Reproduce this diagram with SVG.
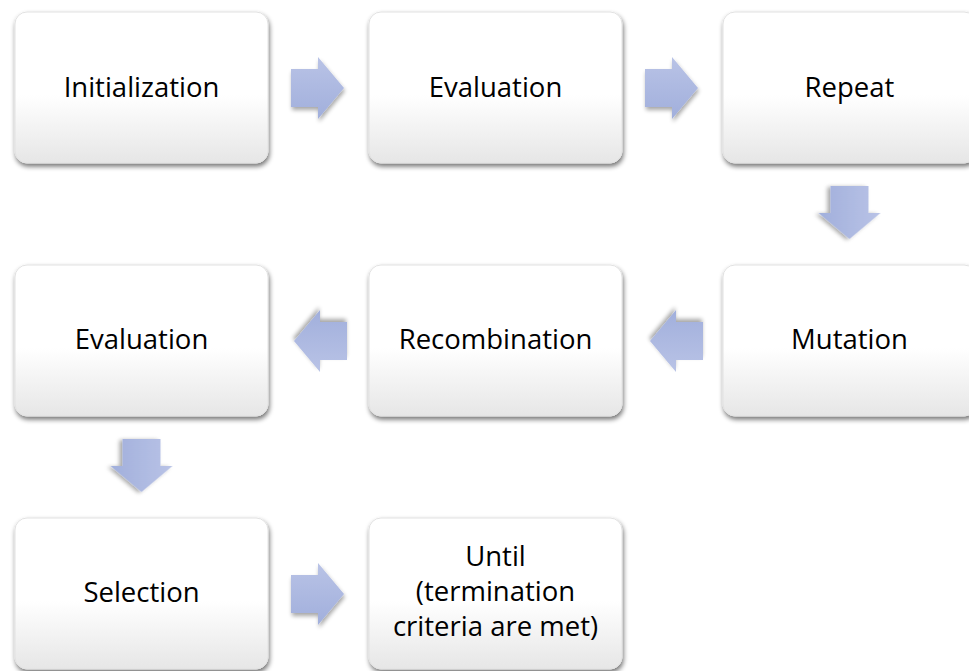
<svg xmlns="http://www.w3.org/2000/svg" width="969" height="671" viewBox="0 0 969 671">
<defs>
<linearGradient id="bg" x1="0" y1="0" x2="0" y2="1">
<stop offset="0" stop-color="#ffffff"/>
<stop offset="0.55" stop-color="#ffffff"/>
<stop offset="1" stop-color="#e6e6e6"/>
</linearGradient>
<linearGradient id="ag" x1="0" y1="0" x2="0" y2="1">
<stop offset="0" stop-color="#b9c3e6"/>
<stop offset="1" stop-color="#a1afdc"/>
</linearGradient>
<filter id="sh" x="-10%" y="-10%" width="125%" height="130%">
<feGaussianBlur in="SourceAlpha" stdDeviation="2.5"/>
<feOffset dx="1" dy="3" result="b"/>
<feComponentTransfer><feFuncA type="linear" slope="0.55"/></feComponentTransfer>
<feMerge><feMergeNode/><feMergeNode in="SourceGraphic"/></feMerge>
</filter>
<filter id="ash" x="-20%" y="-20%" width="150%" height="150%">
<feGaussianBlur in="SourceAlpha" stdDeviation="2"/>
<feOffset dx="1" dy="3"/>
<feComponentTransfer><feFuncA type="linear" slope="0.35"/></feComponentTransfer>
<feMerge><feMergeNode/><feMergeNode in="SourceGraphic"/></feMerge>
</filter>
<path id="ra" d="M0,-19 H27 V-31 L53,0 L27,31 V19 H0 Z"/>
</defs>
<style>
.box{fill:url(#bg);stroke:#e2e2e2;stroke-width:1;filter:url(#sh)}
.lbl{font-family:"Open Sans","Liberation Sans",sans-serif;font-size:27.5px;fill:#000;text-anchor:middle}
.arr{fill:url(#ag);filter:url(#ash)}
</style>
<rect width="969" height="671" fill="#ffffff"/>
<g id="connectors">
<use href="#ra" class="arr" transform="translate(291,88)"/>
<use href="#ra" class="arr" transform="translate(645,88)"/>
<use href="#ra" class="arr" transform="translate(849.5,186) rotate(90)"/>
<use href="#ra" class="arr" transform="translate(703,341) rotate(180)"/>
<use href="#ra" class="arr" transform="translate(347,341) rotate(180)"/>
<use href="#ra" class="arr" transform="translate(141.5,439) rotate(90)"/>
<use href="#ra" class="arr" transform="translate(291,594)"/>
</g>
<g id="n1"><rect class="box" x="15" y="12" width="253" height="151" rx="12"/><text class="lbl" x="141.5" y="97">Initialization</text></g>
<g id="n2"><rect class="box" x="369" y="12" width="253" height="151" rx="12"/><text class="lbl" x="495.5" y="97">Evaluation</text></g>
<g id="n3"><rect class="box" x="723" y="12" width="253" height="151" rx="12"/><text class="lbl" x="849.5" y="97">Repeat</text></g>
<g id="n4"><rect class="box" x="723" y="265" width="253" height="151" rx="12"/><text class="lbl" x="849.5" y="349">Mutation</text></g>
<g id="n5"><rect class="box" x="369" y="265" width="253" height="151" rx="12"/><text class="lbl" x="495.5" y="349">Recombination</text></g>
<g id="n6"><rect class="box" x="15" y="265" width="253" height="151" rx="12"/><text class="lbl" x="141.5" y="349">Evaluation</text></g>
<g id="n7"><rect class="box" x="15" y="518" width="253" height="151" rx="12"/><text class="lbl" x="141.5" y="602">Selection</text></g>
<g id="n8"><rect class="box" x="369" y="518" width="253" height="151" rx="12"/><text class="lbl" x="495.5" y="566">Until</text><text class="lbl" x="495.5" y="601">(termination</text><text class="lbl" x="495.5" y="636">criteria are met)</text></g>
</svg>
